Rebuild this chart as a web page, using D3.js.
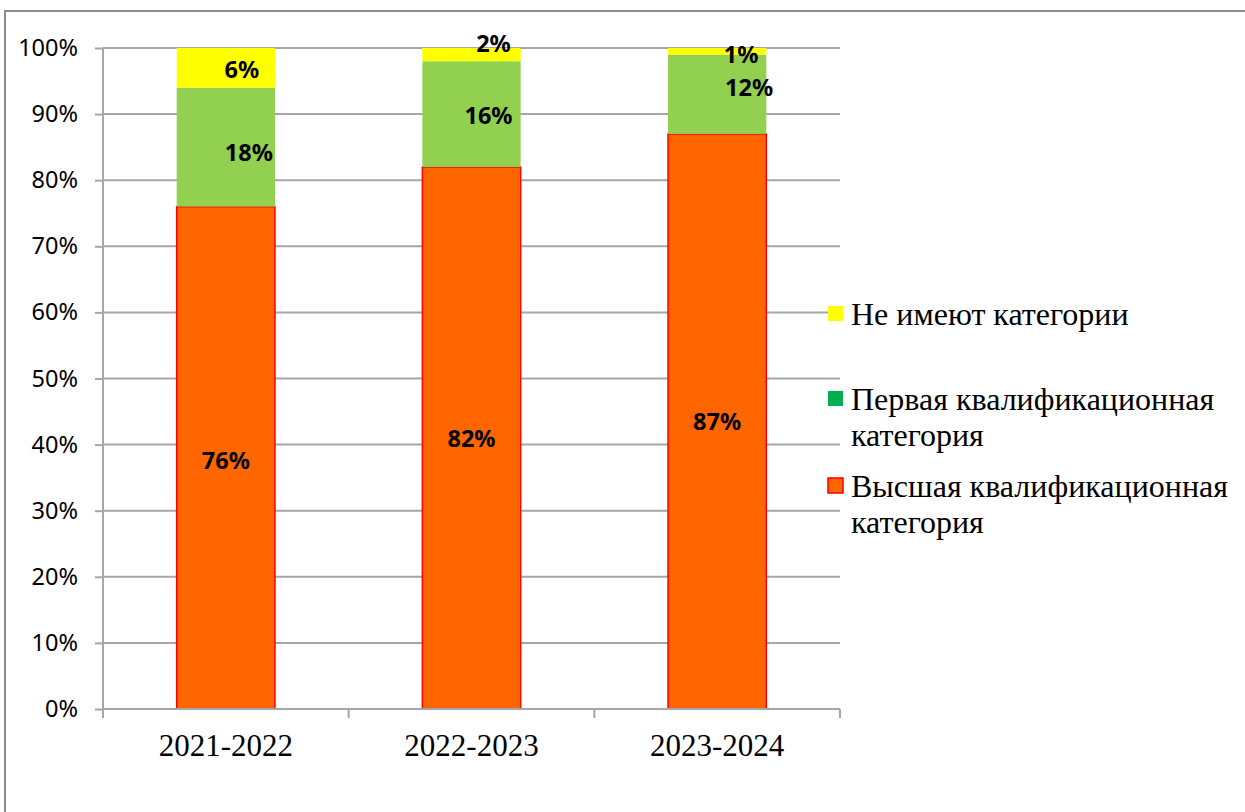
<!DOCTYPE html>
<html><head><meta charset="utf-8">
<script src="https://cdn.jsdelivr.net/npm/d3@7/dist/d3.min.js"></script>
<style>body{margin:0;background:#fff}svg{display:block}</style>
</head><body>
<svg id="c" width="1245" height="812"></svg>
<script>
const categories = ["2021-2022", "2022-2023", "2023-2024"];
const seriesNames = ["Высшая квалификационная категория", "Первая квалификационная категория", "Не имеют категории"];
const highest = [76, 82, 87];
const first = [18, 16, 12];
const none = [6, 2, 1];
const yTicks = [0, 10, 20, 30, 40, 50, 60, 70, 80, 90, 100];

const SERIF = '"Liberation Serif"';
const SANS = '"Noto Sans"';
const svg = d3.select("#c");
const W = 1245, H = 812;
const m = {left: 103, right: 840, top: 48, bottom: 709};

svg.append("rect").attr("x", 5).attr("y", 11).attr("width", W + 10).attr("height", H + 10)
  .attr("fill", "#fff").attr("stroke", "#8c8c8c").attr("stroke-width", 2);

const x = d3.scaleBand().domain(categories).range([m.left, m.right]).paddingInner(0.6).paddingOuter(0.3);
const y = d3.scaleLinear().domain([0, 100]).range([m.bottom, m.top]);

svg.append("g").selectAll("line").data(yTicks.filter(t => t > 0)).join("line")
  .attr("x1", m.left).attr("x2", m.right)
  .attr("y1", d => y(d)).attr("y2", d => y(d))
  .attr("stroke", "#a6a6a6").attr("stroke-width", 2);

const yAxis = d3.axisLeft(y).tickValues(yTicks).tickFormat(d => d + "%").tickSize(8).tickPadding(17);
const gy = svg.append("g").attr("transform", `translate(${m.left},0)`).call(yAxis);
gy.select(".domain").attr("stroke", "#a6a6a6").attr("stroke-width", 2).attr("d", `M0,${m.top}V${m.bottom}`);
gy.selectAll(".tick line").attr("stroke", "#a6a6a6").attr("stroke-width", 2);
gy.selectAll(".tick text").style("font-family", SANS).style("font-size", "23.5px").attr("fill", "#000");

const stackData = categories.map((c, i) => ({cat: c, highest: highest[i], first: first[i], none: none[i]}));
const keys = ["highest", "first", "none"];
const stack = d3.stack().keys(keys)(stackData);
const fills = {highest: "#FF6600", first: "#92D050", none: "#FFFF00"};
const strokes = {highest: "#FF0000", first: "none", none: "none"};

stack.forEach(layer => {
  svg.append("g").selectAll("rect").data(layer).join("rect")
    .attr("x", d => x(d.data.cat))
    .attr("width", x.bandwidth())
    .attr("y", d => y(d[1]))
    .attr("height", d => y(d[0]) - y(d[1]))
    .attr("fill", fills[layer.key])
    .attr("stroke", strokes[layer.key])
    .attr("stroke-width", 1.5);
});

const xAxisScale = d3.scalePoint().domain(d3.range(categories.length + 1)).range([m.left, m.right]);
const gx = svg.append("g");
gx.append("line").attr("x1", m.left).attr("x2", m.right).attr("y1", m.bottom).attr("y2", m.bottom)
  .attr("stroke", "#a6a6a6").attr("stroke-width", 2);
gx.selectAll("line.t").data(d3.range(categories.length + 1)).join("line").attr("class", "t")
  .attr("x1", d => xAxisScale(d)).attr("x2", d => xAxisScale(d))
  .attr("y1", m.bottom).attr("y2", m.bottom + 9)
  .attr("stroke", "#a6a6a6").attr("stroke-width", 2);
gx.selectAll("text").data(categories).join("text")
  .attr("x", d => x(d) + x.bandwidth() / 2).attr("y", 756)
  .attr("text-anchor", "middle")
  .style("font-family", SERIF).style("font-size", "31px")
  .text(d => d);

const nudges = {
  highest: [[0, 2], [0, 0], [0, 0]],
  first: [[23, 5], [17, 1], [32, -7]],
  none: [[16, 1], [22, -12], [24, 3]]
};
stack.forEach(layer => {
  svg.append("g").selectAll("text").data(layer).join("text")
    .attr("x", (d, i) => x(d.data.cat) + x.bandwidth() / 2 + nudges[layer.key][i][0])
    .attr("y", (d, i) => y((d[0] + d[1]) / 2) + nudges[layer.key][i][1])
    .attr("text-anchor", "middle").attr("dominant-baseline", "central")
    .style("font-family", SANS).style("font-weight", "bold").style("font-size", "23.5px")
    .attr("fill", "#000")
    .text(d => (d[1] - d[0]) + "%");
});

const legendItems = [
  {lines: ["Не имеют категории"], fill: "#FFFF00", stroke: "none", my: 306, ty: 325},
  {lines: ["Первая квалификационная", "категория"], fill: "#00B050", stroke: "none", my: 391, ty: 410},
  {lines: ["Высшая квалификационная", "категория"], fill: "#FF6600", stroke: "#FF0000", my: 478, ty: 497}
];
const lg = svg.append("g");
legendItems.forEach(it => {
  lg.append("rect").attr("x", 828).attr("y", it.my).attr("width", 15).attr("height", 15)
    .attr("fill", it.fill).attr("stroke", it.stroke).attr("stroke-width", 1.5);
  it.lines.forEach((l, j) => lg.append("text").attr("x", 851).attr("y", it.ty + j * 36)
    .style("font-family", SERIF).style("font-size", "32px").attr("fill", "#000").text(l));
});
</script>
</body></html>
